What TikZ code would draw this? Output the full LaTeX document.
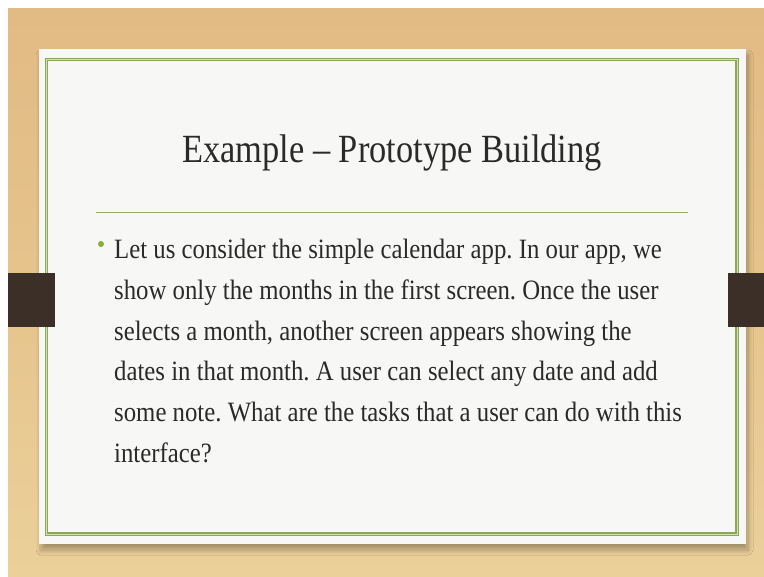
\documentclass[tikz,border=0pt]{standalone}
\usepackage{fontspec}
\setmainfont{Liberation Serif}
\newfontfamily\bodyfont[FakeStretch=0.885]{Liberation Serif}
\newfontfamily\headfont[FakeStretch=0.86]{Liberation Serif}
\usetikzlibrary{shadows.blur}
\definecolor{woodA}{HTML}{E2BA84}
\definecolor{woodB}{HTML}{EBD09A}
\definecolor{woodC}{HTML}{E6C48C}
\definecolor{paper}{HTML}{F7F7F5}
\definecolor{frameDark}{HTML}{8CA758}
\definecolor{frameLight}{HTML}{D3E3B0}
\definecolor{ruleGreen}{HTML}{94B05A}
\definecolor{bulletGreen}{HTML}{8AAE3E}
\definecolor{tabBrown}{HTML}{3B2F27}
\definecolor{inkText}{HTML}{2A2A2A}
\tikzset{
  bodyline/.style={anchor=base west, inner sep=0pt, text=inkText,
    font=\bodyfont\fontsize{28}{28}\selectfont\frenchspacing},
  titletext/.style={anchor=base, inner sep=0pt, text=inkText,
    font=\headfont\fontsize{40}{40}\selectfont},
  tab/.style={fill=tabBrown, draw=none},
}
\begin{document}
\begin{tikzpicture}[x=1pt,y=-1pt]
  \useasboundingbox (0,0) rectangle (764,577);
  % outer margin and wood board
  \fill[white] (0,0) rectangle (764,577);
  \shade[top color=woodA, bottom color=woodB, middle color=woodC]
    (8,9) rectangle (764,577);
  % sheet of paper with its soft shadow
  \fill[paper, blur shadow={shadow xshift=2pt, shadow yshift=-6pt,
      shadow opacity=30, shadow blur steps=10, shadow blur radius=5pt}]
    (39,49) rectangle (746,544);
  % double green frame
  \draw[frameDark, line width=3.2pt] (46.5,59.5) rectangle (737,534);
  \draw[frameLight, line width=0.9pt] (46.5,59.5) rectangle (737,534);
  % side tabs holding the sheet
  \fill[tab] (8,273) rectangle (55,327);
  \fill[tab] (728,273) rectangle (764,327);
  % title and its rule
  \node[titletext] (title) at (392,163) {Example – Prototype Building};
  \draw[ruleGreen, line width=1.8pt] (96,212.5) -- (688,212.5);
  % bullet and body text
  \fill[bulletGreen] (101,244) circle (3pt);
  \node[bodyline] (l1) at (114,259) {Let us consider the simple calendar app. In our app, we};
  \node[bodyline] (l2) at (114,299.5) {show only the months in the first screen. Once the user};
  \node[bodyline] (l3) at (114,340.5) {selects a month, another screen appears showing the};
  \node[bodyline] (l4) at (114,381) {dates in that month. A user can select any date and add};
  \node[bodyline] (l5) at (114,422) {some note. What are the tasks that a user can do with this};
  \node[bodyline] (l6) at (114,463) {interface?};
\end{tikzpicture}
\end{document}
